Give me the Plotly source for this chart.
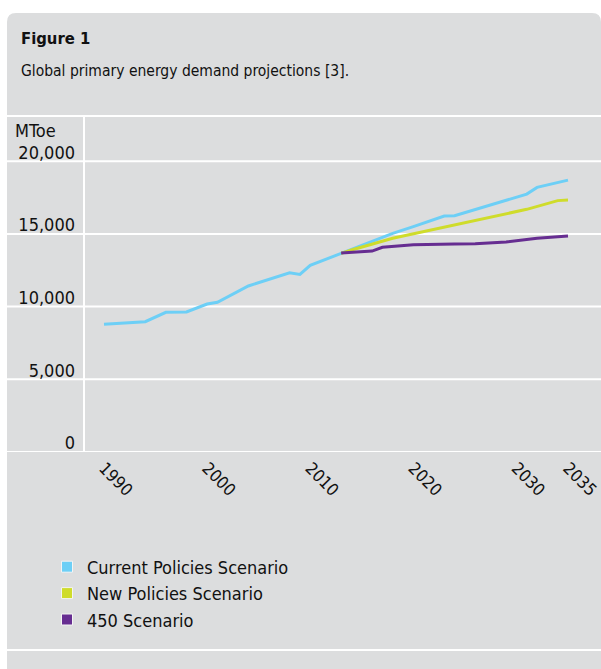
import plotly.graph_objects as go

# ---- data ----
cps_years = [1990, 1994, 1996, 1998, 2000, 2001, 2004, 2008, 2009, 2010, 2013, 2018, 2020, 2023, 2024, 2031, 2032, 2035]
cps_values = [8780, 8960, 9610, 9630, 10180, 10300, 11420, 12330, 12210, 12840, 13660, 15040, 15500, 16230, 16250, 17740, 18200, 18700]

nps_years = [2013, 2014, 2018, 2031, 2034, 2035]
nps_values = [13660, 13890, 14700, 16690, 17290, 17330]

s450_years = [2013, 2016, 2017, 2018, 2020, 2024, 2026, 2029, 2032, 2035]
s450_values = [13680, 13820, 14080, 14120, 14250, 14300, 14320, 14450, 14700, 14860]

x_ticks = [1990, 2000, 2010, 2020, 2030, 2035]
y_ticks = [0, 5000, 10000, 15000, 20000]
y_tick_labels = ["0", "5,000", "10,000", "15,000", "20,000"]

series_names = ["Current Policies Scenario", "New Policies Scenario", "450 Scenario"]
colors = ["#6dcff6", "#cfdc2b", "#662d91"]

title = "Figure 1"
subtitle = "Global primary energy demand projections [3]."
unit = "MToe"

# ---- geometry (body margin removed in the page, see post_script) ----
W, H = 601, 669
ML, MR, MT, MB = 84, 0, 116, 217
PW, PH = W - ML - MR, H - MT - MB
PANEL = "#dcddde"
FONT = "DejaVu Sans Condensed, Liberation Sans, sans-serif"


def px(xr):
    """screen x -> paper x"""
    return (xr - ML) / PW


def py(yr):
    """screen y -> paper y"""
    return (H - MB - yr) / PH


fig = go.Figure()

for name, xs, ys, c in zip(series_names, [cps_years, nps_years, s450_years],
                           [cps_values, nps_values, s450_values], colors):
    fig.add_trace(go.Scatter(x=xs, y=ys, mode="lines", line=dict(color=c, width=3),
                             showlegend=False, hoverinfo="skip"))

for name, c in zip(series_names, colors):
    fig.add_trace(go.Scatter(x=[None], y=[None], mode="markers", name=name,
                             marker=dict(symbol="square", size=11, color=c,
                                         line=dict(color="#f4f4f4", width=1))))

# panel with rounded top corners
r = 9
x0, x1, y0, y1 = 7, 601, 13, 700
path = (f"M {px(x0)},{py(y1)} L {px(x0)},{py(y0 + r)} "
        f"Q {px(x0)},{py(y0)} {px(x0 + r)},{py(y0)} "
        f"L {px(x1 - r)},{py(y0)} Q {px(x1)},{py(y0)} {px(x1)},{py(y0 + r)} "
        f"L {px(x1)},{py(y1)} Z")
shapes = [dict(type="path", path=path, xref="paper", yref="paper",
               fillcolor=PANEL, line=dict(width=0), layer="below")]
white = dict(color="white", width=2)
shapes.append(dict(type="line", xref="paper", yref="paper", x0=px(7), x1=px(601),
                   y0=1, y1=1, line=white, layer="below"))
for v in y_ticks:
    shapes.append(dict(type="line", xref="paper", yref="y", x0=px(7), x1=px(601),
                       y0=v, y1=v, line=white, layer="below"))
shapes.append(dict(type="line", xref="paper", yref="paper", x0=0, x1=0,
                   y0=0, y1=1, line=white, layer="below"))
shapes.append(dict(type="line", xref="paper", yref="paper", x0=px(7), x1=px(601),
                   y0=py(650), y1=py(650), line=white, layer="below"))

annotations = [
    dict(text=f"<b>{title}</b>", x=px(19), y=py(39), xref="paper", yref="paper",
         xanchor="left", yanchor="middle", showarrow=False,
         font=dict(size=16.5, color="#111111", family=FONT)),
    dict(text=subtitle, x=px(19), y=py(71), xref="paper", yref="paper",
         xanchor="left", yanchor="middle", showarrow=False,
         font=dict(size=15.5, color="#111111", family=FONT)),
    dict(text=unit, x=px(13), y=py(131), xref="paper", yref="paper",
         xanchor="left", yanchor="middle", showarrow=False,
         font=dict(size=18, color="#111111", family=FONT)),
]

fig.update_layout(
    width=W, height=H,
    margin=dict(l=ML, r=MR, t=MT, b=MB, pad=0),
    paper_bgcolor="white",
    plot_bgcolor="rgba(0,0,0,0)",
    font=dict(family=FONT, size=18, color="#111111"),
    shapes=shapes,
    annotations=annotations,
    showlegend=True,
    legend=dict(x=px(47), y=py(548.5), xanchor="left", yanchor="top",
                bgcolor="rgba(0,0,0,0)", font=dict(size=18, family=FONT, color="#111111"),
                itemwidth=30, tracegroupgap=0),
    xaxis=dict(range=[1988.06, 2038.2], tickvals=x_ticks, ticktext=[str(t) for t in x_ticks],
               tickangle=45, showgrid=False, zeroline=False, showline=False, ticks="",
               tickfont=dict(size=17, family=FONT, color="#111111"),
               ticklabelstandoff=2, fixedrange=True),
    yaxis=dict(range=[0, 23110], tickvals=y_ticks, ticktext=y_tick_labels,
               showgrid=False, zeroline=False, showline=False, ticks="",
               tickfont=dict(size=18, family=FONT, color="#111111"),
               ticklabelshift=-9, ticklabelstandoff=8, fixedrange=True),
)

fig.write_html("out.html",
               config={"displayModeBar": False},
               post_script="document.body.style.margin='0px';document.body.style.overflow='hidden';")
